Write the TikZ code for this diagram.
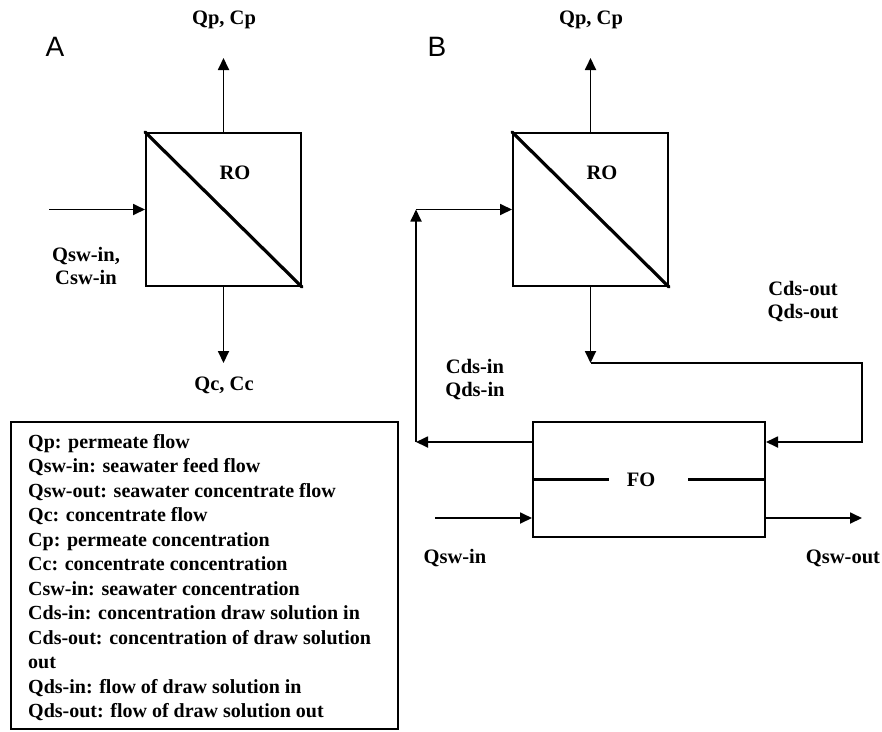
\documentclass[tikz,border=0pt]{standalone}
\usepackage{fontspec}
\setmainfont{Liberation Serif}
\newfontfamily\panelsans{Liberation Sans}
\usetikzlibrary{arrows.meta,calc}
\begin{document}
\begin{tikzpicture}[x=1pt,y=-1pt,
  unitbox/.style={draw,line width=2pt,inner sep=0pt,minimum width=155pt,minimum height=153pt},
  fobox/.style={draw,line width=2pt,inner sep=0pt,minimum width=232pt,minimum height=115pt},
  membrane/.style={line width=3.2pt,line cap=round},
  flow/.style={line width=1.8pt,-{Triangle[length=12pt,width=11pt]}},
  pipe/.style={line width=1.8pt,line join=miter},
  lab/.style={font=\fontsize{20.5}{23}\selectfont\bfseries,align=center,inner sep=0pt},
  panel/.style={font=\panelsans\fontsize{28}{30}\selectfont,inner sep=0pt},
  legendtext/.style={font=\fontsize{20}{24.5}\selectfont\bfseries,align=left,inner sep=0pt,anchor=north west}]
\useasboundingbox (0,0) rectangle (882,731);
\fill[white] (0,0) rectangle (882,731);

% ---------- Panel A ----------
\node[panel] (pA) at (55,47) {A};
\node[unitbox] (roA) at (223.5,209.5) {};
\draw[membrane] (roA.north west) -- (roA.south east);
\node[lab] (roAlab) at (235,173) {RO};
\coordinate (aTop) at (223.5,58);
\coordinate (aIn) at (49,209.5);
\coordinate (aBot) at (223.5,363);
\draw[flow] (roA.north) -- (aTop);
\draw[flow] (aIn) -- (roA.west);
\draw[flow] (roA.south) -- (aBot);
\node[lab] (qpA) at (224,20) {Qp, Cp};
\node[lab] (qswA) at (86,265.5) {Qsw-in,\\Csw-in};
\node[lab] (qcA) at (224,385) {Qc, Cc};

% ---------- Legend ----------
\node[draw,line width=1.8pt,inner sep=0pt,minimum width=387pt,minimum height=307pt] (legend) at (204.5,575.5) {};
\node[legendtext] (legendtxt) at (28,434) {Qp: permeate flow\\
Qsw-in: seawater feed flow\\
Qsw-out: seawater concentrate flow\\
Qc: concentrate flow\\
Cp: permeate concentration\\
Cc: concentrate concentration\\
Csw-in: seawater concentration\\
Cds-in: concentration draw solution in\\
Cds-out: concentration of draw solution\\
out\\
Qds-in: flow of draw solution in\\
Qds-out: flow of draw solution out};

% ---------- Panel B ----------
\node[panel] (pB) at (437,47) {B};
\node[unitbox] (roB) at (590.5,209.5) {};
\draw[membrane] (roB.north west) -- (roB.south east);
\node[lab] (roBlab) at (602,173) {RO};
\coordinate (bTop) at (590.5,58);
\draw[flow] (roB.north) -- (bTop);
\node[lab] (qpB) at (591,20) {Qp, Cp};

\node[fobox] (fo) at (649,479.5) {};
\coordinate (m1) at (609,479.5);
\coordinate (m2) at (688,479.5);
\draw[line width=3pt] (fo.west) -- (m1);
\draw[line width=3pt] (m2) -- (fo.east);
\node[lab] (folab) at (641,479.5) {FO};

\coordinate (dsL) at (416,442);
\coordinate (dsTop) at (416,209.5);
\coordinate (roOut) at (590.5,363);
\coordinate (dsRtop) at (862,363);
\coordinate (dsR) at (862,442);
\draw[flow] (dsL -| fo.west) -- (dsL);
\draw[flow] (dsL) -- (dsTop);
\draw[flow] (dsTop) -- (roB.west);
\draw[flow] (roB.south) -- (roOut);
\draw[pipe,-{Triangle[length=12pt,width=11pt]}] (roOut) -- (dsRtop) -- (dsR) -- (dsR -| fo.east);

\coordinate (swIn) at (435,518);
\coordinate (swOut) at (862,518);
\draw[flow] (swIn) -- (swIn -| fo.west);
\draw[flow] (swOut -| fo.east) -- (swOut);

\node[lab] (cdsout) at (803,301.5) {Cds-out\\Qds-out};
\node[lab] (cdsin) at (475,379.5) {Cds-in\\Qds-in};
\node[lab] (qswinB) at (455,558) {Qsw-in};
\node[lab] (qswoutB) at (843,558) {Qsw-out};
\end{tikzpicture}
\end{document}
